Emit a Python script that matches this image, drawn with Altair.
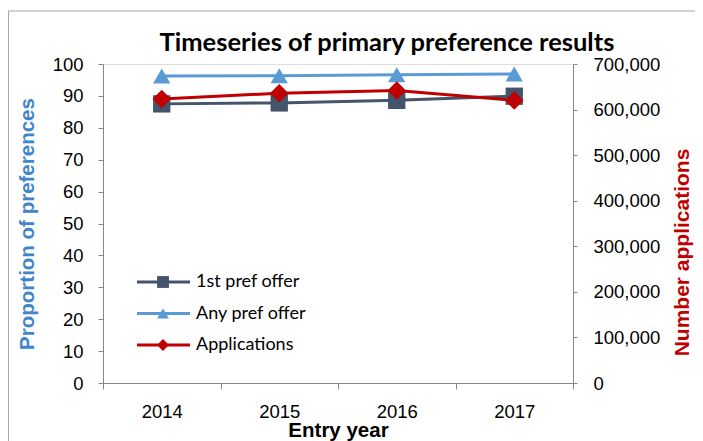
import altair as alt
import pandas as pd

# ---- data ----
years = ["2014", "2015", "2016", "2017"]
first_pref = [87.5, 87.8, 88.6, 89.9]
any_pref = [96.2, 96.3, 96.6, 96.9]
applications = [623000, 636000, 642000, 620000]

series_names = ["1st pref offer", "Any pref offer", "Applications"]
series_colors = ["#44546A", "#5B9BD5", "#C00000"]
series_shapes = ["square", "triangle-up", "diamond"]

left_ticks = [0, 10, 20, 30, 40, 50, 60, 70, 80, 90, 100]
right_ticks = [0, 100000, 200000, 300000, 400000, 500000, 600000, 700000]

title_text = "Timeseries of primary preference results"
left_title = "Proportion of preferences"
right_title = "Number applications"
x_title = "Entry year"

FONT = "Lato"
W, H = 470, 319

df_left = pd.DataFrame({
    "year": years * 2,
    "value": first_pref + any_pref,
    "series": [series_names[0]] * len(years) + [series_names[1]] * len(years),
})
df_right = pd.DataFrame({"year": years, "value": applications, "series": series_names[2]})
df_legend = pd.DataFrame({"series": series_names})
df_title = pd.DataFrame({"t": [title_text]})
df_frame = pd.DataFrame({"k": [0]})

color = alt.Color("series:N", scale=alt.Scale(domain=series_names, range=series_colors), legend=None)
shape = alt.Shape("series:N", scale=alt.Scale(domain=series_names, range=series_shapes), legend=None)

x_enc = alt.X(
    "year:O",
    scale=alt.Scale(type="band", paddingInner=0, paddingOuter=0),
    axis=alt.Axis(
        title=x_title, labelAngle=0, tickBand="extent", tickSize=6,
        labelFontSize=18.5, labelPadding=13, labelColor="black",
        titleFontSize=20.5, titleFontWeight="bold", titleColor="black",
        titleY=53, titleBaseline="alphabetic",
    ),
)

y_left = alt.Y(
    "value:Q",
    scale=alt.Scale(domain=[0, 100], nice=False, zero=True),
    axis=alt.Axis(
        values=left_ticks, orient="left", grid=False, tickSize=5,
        labelFontSize=18.5, labelPadding=15, labelColor="black",
        title=left_title, titleColor="#3E85CC", titleFontSize=20.5, titleFontWeight="bold",
        titleAngle=270, titleX=-76, titleY=H / 2, titleAlign="center", titleBaseline="middle",
    ),
)

y_right = alt.Y(
    "value:Q",
    scale=alt.Scale(domain=[0, 700000], nice=False, zero=True),
    axis=alt.Axis(
        values=right_ticks, orient="right", grid=False, tickSize=4, format=",d",
        labelFontSize=18.5, labelPadding=16, labelColor="black",
        title=right_title, titleColor="#C00000", titleFontSize=21, titleFontWeight="bold",
        titleAngle=270, titleX=109, titleY=188, titleAlign="center", titleBaseline="middle",
    ),
)

left_line = alt.Chart(df_left).mark_line(strokeWidth=3).encode(x=x_enc, y=y_left, color=color, detail="series:N")
left_pts = alt.Chart(df_left).mark_point(filled=True, opacity=1, size=300).encode(
    x=x_enc, y=y_left, color=color, shape=shape
)
left_layer = alt.layer(left_line, left_pts)

right_line = alt.Chart(df_right).mark_line(strokeWidth=3).encode(x=x_enc, y=y_right, color=color)
right_pts = alt.Chart(df_right).mark_point(filled=True, opacity=1, size=340).encode(
    x=x_enc, y=y_right, color=color, shape=shape
)
right_layer = alt.layer(right_line, right_pts)

leg_y = alt.Y("series:N", scale=alt.Scale(type="point", domain=series_names, range=[218, 281], padding=0), axis=None)
leg_rule = alt.Chart(df_legend).mark_rule(strokeWidth=3).encode(
    x=alt.value(34), x2=alt.value(87), y=leg_y, color=color
)
leg_pts = alt.Chart(df_legend).mark_point(filled=True, opacity=1, size=140).encode(
    x=alt.value(60), y=leg_y, color=color, shape=shape
)
leg_txt = alt.Chart(df_legend).mark_text(align="left", baseline="middle", fontSize=18, font=FONT, color="black").encode(
    x=alt.value(93), y=leg_y, text="series:N"
)
legend_layer = alt.layer(leg_rule, leg_pts, leg_txt)

title_layer = alt.Chart(df_title).mark_text(
    align="center", baseline="alphabetic", fontSize=25.5, fontWeight="bold", font=FONT, color="black"
).encode(x=alt.value(284), y=alt.value(-13), text="t:N")

frame = alt.Chart(df_frame).mark_rect(fill="white", fillOpacity=0, stroke="#A6A6A6", strokeWidth=1).encode(
    x=alt.value(-94.5), x2=alt.value(700), y=alt.value(-53), y2=alt.value(500)
)

chart = (
    alt.layer(frame, left_layer, right_layer, legend_layer, title_layer)
    .resolve_scale(y="independent")
    .properties(
        width=W, height=H,
        autosize=alt.AutoSizeParams(type="none"),
        padding={"left": 95, "top": 56, "right": 122, "bottom": 58},
    )
    .configure_view(stroke=None)
    .configure_axis(
        domainColor="#A6A6A6", tickColor="#A6A6A6", domainWidth=1, tickWidth=1,
        labelFont=FONT, titleFont=FONT,
    )
    .configure(background="white")
)

chart.save("out.html", embed_options={"renderer": "svg", "actions": False})
